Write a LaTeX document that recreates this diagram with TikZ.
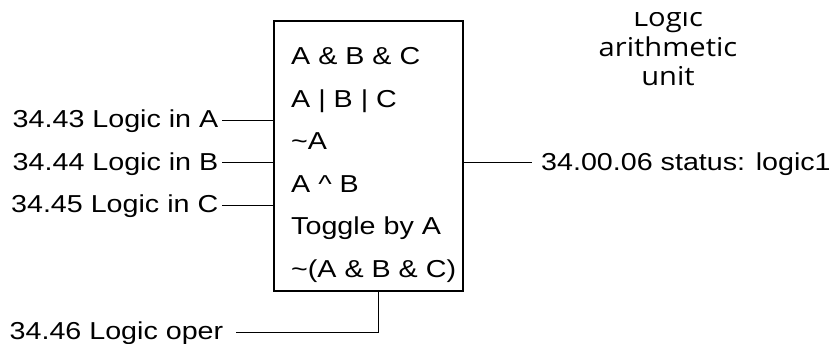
\documentclass[tikz,border=0pt]{standalone}
\usepackage{fontspec}
\setmainfont[FakeStretch=1.17]{Liberation Sans}
\newfontfamily\lalfont[FakeStretch=1.12]{Open Sans}
\usetikzlibrary{calc}
\begin{document}
\begin{tikzpicture}[x=1pt,y=1pt,
  lbl/.style={inner sep=0pt,font=\fontsize{24.5}{29}\selectfont},
  unitlbl/.style={inner sep=0pt,anchor=base,font=\lalfont\fontsize{26}{29}\selectfont},
  wire/.style={line width=1pt,draw=black},
  blk/.style={draw=black,line width=1.3pt,inner sep=0pt,minimum width=189pt,minimum height=270pt}]
\clip (0,0) rectangle (831,-344);
\fill[white] (0,0) rectangle (831,-344);
% block
\node[blk] (box) at (368.5,-156) {};
% operations inside the block
\node[lbl,anchor=base west] (op1) at (291,-65) {A \& B \& C};
\node[lbl,anchor=base west] (op2) at (291,-108) {A | B | C};
\node[lbl,anchor=base west] (op3) at (291,-150) {\textasciitilde A};
\node[lbl,anchor=base west] (op4) at (291,-193) {A \textasciicircum{} B};
\node[lbl,anchor=base west] (op5) at (291,-235) {Toggle by A};
\node[lbl,anchor=base west] (op6) at (291,-278) {\textasciitilde(A \& B \& C)};
% inputs
\node[lbl,anchor=base east] (inA) at (218.5,-128) {34.43 Logic in A};
\node[lbl,anchor=base east] (inB) at (218.5,-171) {34.44 Logic in B};
\node[lbl,anchor=base east] (inC) at (218.5,-213) {34.45 Logic in C};
\node[lbl,anchor=base west] (oper) at (9.5,-340) {34.46 Logic oper};
% output
\node[lbl,anchor=base west] (out) at (541,-171) {34.00.06 status: logic1};
% title
\begin{scope}
\clip (560,-13) rectangle (780,-120);
\node[unitlbl] (t1) at (668,-27) {Logic};
\end{scope}
\node[unitlbl] (t2) at (668,-57) {arithmetic};
\node[unitlbl] (t3) at (668,-86) {unit};
% wires
\coordinate (a) at ($(inA.base east)+(3.5,7)$);
\coordinate (b) at ($(inB.base east)+(3.5,8)$);
\coordinate (c) at ($(inC.base east)+(3.5,7)$);
\draw[wire] (a) -- (a -| box.west);
\draw[wire] (b) -- (b -| box.west);
\draw[wire] (c) -- (c -| box.west);
\coordinate (o) at ($(out.base west)+(-9,8)$);
\draw[wire] (box.east |- o) -- (o);
\coordinate (d) at ($(oper.base east)+(13,7)$);
\draw[wire] (d) -| ([xshift=9.5pt]box.south);
\end{tikzpicture}
\end{document}
